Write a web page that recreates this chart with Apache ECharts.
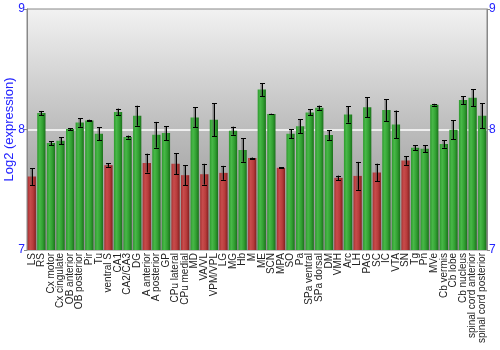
<!DOCTYPE html>
<html><head><meta charset="utf-8">
<script src="https://cdn.jsdelivr.net/npm/echarts@6/dist/echarts.min.js"></script>
<style>html,body{margin:0;padding:0;background:#fff}#c{width:500px;height:350px}</style>
</head><body><div id="c"></div>
<script>
const categories = ["LS","RS","Cx motor","Cx cingulate","OB anterior","OB posterior","Pir","Tu","ventral S","CA1","CA2/CA3","DG","A anterior","A posterior","GP","CPu lateral","CPu medial","MD","VA/VL","VPM/VPL","LG","MG","Hb","M","ME","SCN","MPA","SO","Pa","SPa ventral","SPa dorsal","DM","VMH","Arc","LH","PAG","SC","IC","VTA","SN","Tg","Pn","MVe","Cb vermis","Cb lobe","Cb nucleus","spinal cord anterior","spinal cord posterior"];
const values = [7.61,8.137,7.887,7.906,8.004,8.059,8.075,7.965,7.704,8.145,7.937,8.114,7.721,7.956,7.97,7.715,7.621,8.1,7.629,8.081,7.64,7.99,7.829,7.763,8.331,8.128,7.682,7.965,8.026,8.142,8.181,7.954,7.599,8.125,7.615,8.184,7.643,8.162,8.042,7.743,7.848,7.84,8.206,7.879,7.998,8.245,8.264,8.114];
const errors = [0.07,0.017,0.017,0.03,0.008,0.036,0.006,0.055,0.014,0.028,0.012,0.083,0.078,0.107,0.058,0.087,0.083,0.083,0.086,0.136,0.058,0.033,0.097,0.004,0.055,0.003,0.003,0.036,0.058,0.025,0.017,0.04,0.018,0.068,0.116,0.082,0.073,0.091,0.115,0.036,0.02,0.028,0.007,0.03,0.079,0.033,0.069,0.104];
const isLow = [1,0,0,0,0,0,0,0,1,0,0,0,1,0,0,1,1,0,1,0,1,0,0,1,0,0,1,0,0,0,0,0,1,0,1,0,1,0,0,1,0,0,0,0,0,0,0,0];
const yTicks = [7, 8, 9];

const G = echarts.graphic;
const greenFill = new G.LinearGradient(0,0,1,0,[{offset:0,color:'#2e9a2e'},{offset:0.3,color:'#48b848'},{offset:0.65,color:'#32a032'},{offset:1,color:'#1b711b'}]);
const redFill = new G.LinearGradient(0,0,1,0,[{offset:0,color:'#a83232'},{offset:0.3,color:'#c84c4c'},{offset:0.65,color:'#b83c3c'},{offset:1,color:'#842020'}]);

const chart = echarts.init(document.getElementById('c'), null, {renderer:'canvas'});
const yAxisCommon = {
  type:'value', min:yTicks[0], max:yTicks[yTicks.length-1], interval:1,
  axisLine:{show:true,lineStyle:{color:'#888'}},
  axisTick:{show:true,length:3,lineStyle:{color:'#888'}},
  axisLabel:{color:'#2323ff',fontSize:12,fontFamily:'Liberation Sans, Arial',margin:2},
};
chart.setOption({
  animation:false,
  grid:{left:27,right:13,top:9,bottom:100,containLabel:false,outerBoundsMode:'none',show:true,borderColor:'#888',borderWidth:1,
    backgroundColor:new G.LinearGradient(0,0,0,1,[{offset:0,color:'#f2f2f2'},{offset:0.5,color:'#bcbcbc'},{offset:1,color:'#8e8e8e'}])},
  xAxis:{type:'category',data:categories,
    axisLine:{show:false},axisTick:{show:false},
    axisLabel:{interval:0,rotate:90,fontSize:10,color:'#222',fontFamily:'Liberation Sans, Arial',margin:3}},
  yAxis:[
    Object.assign({}, yAxisCommon, {position:'left',name:'Log2 (expression)',nameLocation:'middle',nameGap:11,nameMoveOverlap:false,
      nameTextStyle:{color:'#2323ff',fontSize:13,fontFamily:'Liberation Sans, Arial'},
      splitLine:{show:true,lineStyle:{color:['rgba(0,0,0,0)','#ffffff','rgba(0,0,0,0)'],width:1.5}}}),
    Object.assign({}, yAxisCommon, {position:'right',splitLine:{show:false}})
  ],
  series:[
    {type:'bar',barCategoryGap:'14%',
      data:values.map((v,i)=>({value:v,itemStyle:{color:isLow[i]?redFill:greenFill}})),
      z:2},
    {type:'custom',z:5,
      data:values.map((v,i)=>[i,v-errors[i],v+errors[i]]),
      renderItem:function(params,api){
        const lo=api.coord([api.value(0),api.value(1)]);
        const hi=api.coord([api.value(0),api.value(2)]);
        const x=Math.round(lo[0])+0.5, cw=2.5;
        const st={stroke:'#000',lineWidth:1};
        const sh={stroke:'rgba(80,80,80,0.55)',lineWidth:2};
        return {type:'group',children:[
          {type:'line',shape:{x1:x-1,y1:hi[1],x2:x-1,y2:lo[1]},style:sh},
          {type:'line',shape:{x1:x,y1:hi[1],x2:x,y2:lo[1]},style:st},
          {type:'line',shape:{x1:x-cw,y1:Math.round(hi[1])+0.5,x2:x+cw,y2:Math.round(hi[1])+0.5},style:st},
          {type:'line',shape:{x1:x-cw,y1:Math.round(lo[1])+0.5,x2:x+cw,y2:Math.round(lo[1])+0.5},style:st}
        ]};
      }}
  ]
});
</script></body></html>
